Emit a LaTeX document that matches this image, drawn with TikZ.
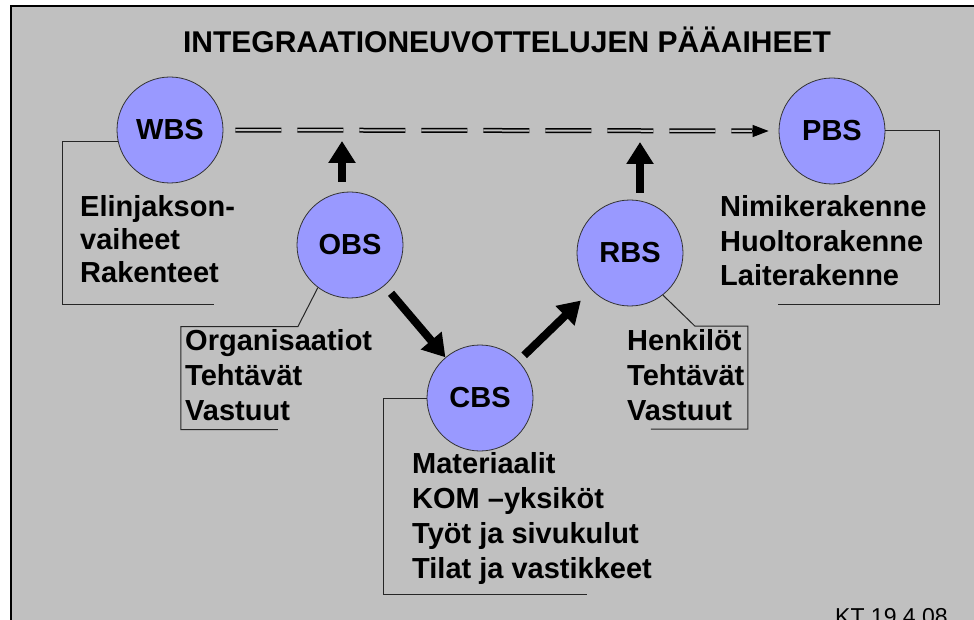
\documentclass[tikz,border=0pt]{standalone}
\usepackage{fontspec}
\setmainfont{Liberation Sans}
\usetikzlibrary{arrows.meta}
\definecolor{panel}{RGB}{192,192,192}
\definecolor{bubblefill}{RGB}{153,153,255}
\begin{document}
\begin{tikzpicture}[x=1pt,y=-1pt,
  bubble/.style={circle, minimum size=106pt, inner sep=0pt, draw=black!80,
    line width=0.8pt, fill=bubblefill, font=\fontsize{29}{34}\selectfont\bfseries},
  % multi-line lists are placed by the baseline of their last line
  itemlist/.style={anchor=base west, align=left, inner sep=0pt,
    font=\fontsize{29}{35}\selectfont\bfseries},
  bracket/.style={draw=black!85, line width=1pt},
  bigarrow/.style={line width=8pt, -{Triangle[length=22pt,width=26pt]}},
  dbllink/.style={draw=black, line width=1.5pt, double=panel,
    double distance=2pt, dash pattern=on 46pt off 16pt},
  smalltip/.style={line width=1.2pt, -{Triangle[length=16pt,width=12pt]}},
  ]
% page and grey panel with its top/left frame
\useasboundingbox (0,0) rectangle (974,620);
\fill[white] (0,0) rectangle (974,620);
\fill[panel] (11,6) rectangle (974,620);
\draw[line width=2pt] (11,622) -- (11,6) -- (976,6);

% heading
\node[font=\fontsize{30}{36}\selectfont\bfseries, anchor=base, inner sep=0pt]
  (title) at (507,53) {INTEGRAATIONEUVOTTELUJEN PÄÄAIHEET};

% breakdown structures
\node[bubble] (WBS) at (170,130) {WBS};
\node[bubble] (OBS) at (350,245) {OBS};
\node[bubble] (CBS) at (480,398) {CBS};
\node[bubble] (RBS) at (630,253) {RBS};
\node[bubble] (PBS) at (832,131) {PBS};

% dashed double link WBS -> PBS
\draw[dbllink, shorten <=12pt, shorten >=26pt] (WBS.east) -- (PBS.west);
\draw[smalltip] ([xshift=-27pt]PBS.west) -- ([xshift=-10pt]PBS.west);

% thick flow arrows
\coordinate (obsTip) at (342,141);
\coordinate (rbsTip) at (640,142);
\draw[bigarrow, shorten <=10pt] (obsTip |- OBS.north) -- (obsTip);
\draw[bigarrow, shorten <=7pt] (rbsTip |- RBS.north) -- (rbsTip);
\draw[bigarrow, shorten <=10pt] (OBS) -- (CBS);
\draw[bigarrow, shorten <=8pt, shorten >=15pt] (CBS) -- (RBS);

% brackets around the item lists
\draw[bracket] (WBS.192) -- ++(-55,0) -- ++(0,163) -- ++(151,0);
\draw[bracket] (OBS.233) -- ++(-20,39) -- ++(-117,0) -- ++(0,103) -- ++(97,0);
\draw[bracket] (CBS.west) -- ++(-43,0) -- ++(0,196) -- ++(203,0);
\draw[bracket] (RBS.308) -- ++(32,31) -- ++(53,0) -- ++(0,103) -- ++(-97,0);
\draw[bracket] (PBS.east) -- ++(54,0) -- ++(0,173) -- ++(-161,0);

% item lists
\node[itemlist, font=\fontsize{29}{33}\selectfont\bfseries] (wbsText) at (80,283)
  {Elinjakson-\\vaiheet\\Rakenteet};
\node[itemlist] (obsText) at (185,420) {Organisaatiot\\Tehtävät\\Vastuut};
\node[itemlist] (cbsText) at (412,578)
  {Materiaalit\\KOM –yksiköt\\Työt ja sivukulut\\Tilat ja vastikkeet};
\node[itemlist] (rbsText) at (627,420) {Henkilöt\\Tehtävät\\Vastuut};
\node[itemlist, font=\fontsize{29}{34}\selectfont\bfseries] (pbsText) at (720,285)
  {Nimikerakenne\\Huoltorakenne\\Laiterakenne};

% date stamp
\node[font=\fontsize{23}{28}\selectfont, anchor=base west, inner sep=0pt]
  (stamp) at (835,624) {KT 19.4.08};
\end{tikzpicture}
\end{document}
